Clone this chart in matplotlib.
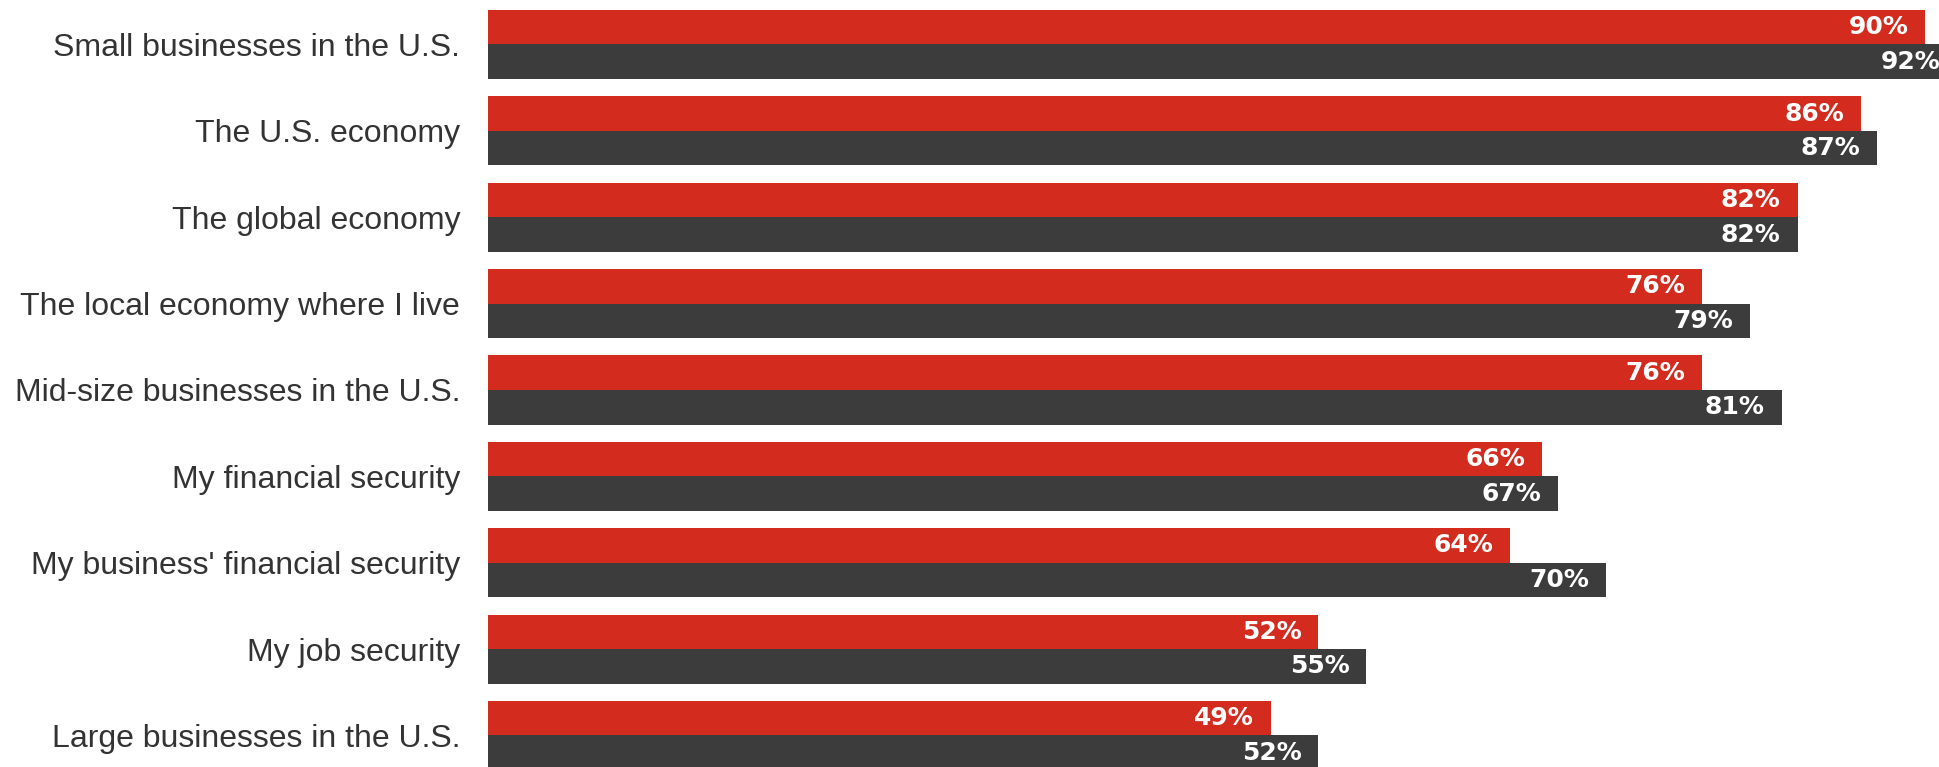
import matplotlib
matplotlib.use("Agg")
import matplotlib.pyplot as plt
import numpy as np

categories = [
    "Small businesses in the U.S.",
    "The U.S. economy",
    "The global economy",
    "The local economy where I live",
    "Mid-size businesses in the U.S.",
    "My financial security",
    "My business' financial security",
    "My job security",
    "Large businesses in the U.S.",
]
series_red = [90, 86, 82, 76, 76, 66, 64, 52, 49]
series_dark = [92, 87, 82, 79, 81, 67, 70, 55, 52]

RED = "#D42B1F"
DARK = "#3C3C3C"

W, H = 1939, 767
fig = plt.figure(figsize=(W / 100, H / 100), dpi=100)
left = 488 / W
ax = fig.add_axes([left, 0, 1 - left, 1])

y = np.arange(len(categories))
h = 0.4
b1 = ax.barh(y - h / 2, series_red, height=h, color=RED, clip_on=True)
b2 = ax.barh(y + h / 2, series_dark, height=h, color=DARK, clip_on=True)

for bars, vals in ((b1, series_red), (b2, series_dark)):
    for rect, v in zip(bars, vals):
        ax.annotate(f"{v}%", xy=(v, rect.get_y() + rect.get_height() / 2),
                    xytext=(-17, 0), textcoords="offset pixels",
                    ha="right", va="center", color="white",
                    fontsize=18, fontweight="bold", family="DejaVu Sans",
                    annotation_clip=False)

ax.set_xlim(0, (W - 488) / 15.97)
ax.set_ylim(8.365, -0.515)
ax.set_yticks(y)
ax.set_yticklabels(categories, fontsize=23, family="Liberation Sans", color="#333333")
ax.tick_params(axis="y", length=0, pad=20)
ax.tick_params(axis="x", length=0, labelbottom=False)
for s in ax.spines.values():
    s.set_visible(False)

fig.savefig("out.png", dpi=100)
